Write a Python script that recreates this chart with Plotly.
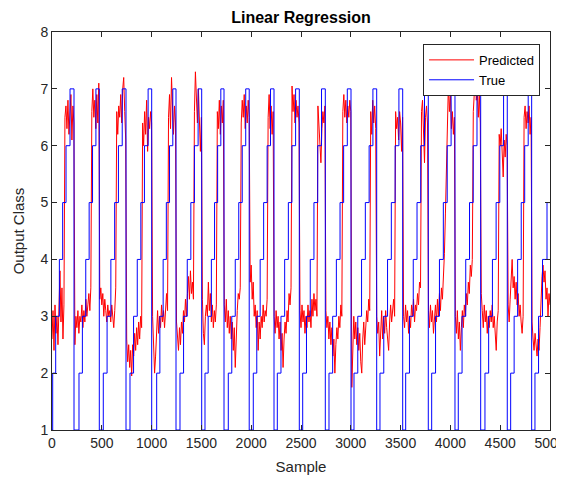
import plotly.graph_objects as go

# ---- True class (step function): sample where each level starts, and the level ----
true_change = [
    0, 7, 37, 74, 107, 141, 181,
    221, 271, 305, 339, 373, 407, 441,
    475, 515, 553, 591, 629, 667, 705,
    743, 783, 819, 856, 892, 928, 965,
    1001, 1051, 1083, 1116, 1148, 1180, 1213,
    1245, 1285, 1321, 1358, 1394, 1430, 1467,
    1503, 1536, 1568, 1600, 1632, 1663, 1695,
    1727, 1770, 1805, 1840, 1875, 1910, 1945,
    1980, 2021, 2056, 2090, 2125, 2160, 2194,
    2229, 2262, 2299, 2336, 2373, 2409, 2446,
    2483, 2517, 2555, 2593, 2630, 2668, 2706,
    2744, 2781, 2818, 2855, 2892, 2928, 2965,
    3002, 3032, 3070, 3108, 3146, 3184, 3222,
    3260, 3293, 3331, 3369, 3407, 3445, 3483,
    3521, 3551, 3589, 3627, 3665, 3702, 3740,
    3778, 3812, 3851, 3890, 3929, 3968, 4007,
    4046, 4079, 4117, 4154, 4192, 4229, 4267,
    4304, 4347, 4384, 4422, 4459, 4496, 4534,
    4571, 4605, 4640, 4675, 4711, 4746, 4781,
    4816, 4849, 4885, 4925, 4970, 5000,
]
true_level = [
    1, 2, 3, 4, 5, 6, 7,
    1, 2, 3, 4, 5, 6, 7,
    1, 2, 3, 4, 5, 6, 7,
    1, 2, 3, 4, 5, 6, 7,
    1, 2, 3, 4, 5, 6, 7,
    1, 2, 3, 4, 5, 6, 7,
    1, 2, 3, 4, 5, 6, 7,
    1, 2, 3, 4, 5, 6, 7,
    1, 2, 3, 4, 5, 6, 7,
    1, 2, 3, 4, 5, 6, 7,
    1, 2, 3, 4, 5, 6, 7,
    1, 2, 3, 4, 5, 6, 7,
    1, 2, 3, 4, 5, 6, 7,
    1, 2, 3, 4, 5, 6, 7,
    1, 2, 3, 4, 5, 6, 7,
    1, 2, 3, 4, 5, 6, 7,
    1, 2, 3, 4, 5, 6, 7,
    1, 2, 3, 4, 5, 6, 7,
    1, 2, 3, 4, 5, 6, 7,
    1, 2, 3, 4, 5, 5,
]

# ---- Predicted output: (first sample, values every 10 samples) ----
pred_step = 10
pred_segments = [
    (0,    [2.6, 3.1, 2.4, 3.2, 2.7, 3.0, 2.5, 3.3, 3.8, 2.9, 3.5, 2.6, 3.2]),
    (130,  [6.5, 6.7, 6.3, 6.8, 6.2, 6.6, 6.9, 6.1, 6.7, 6.4]),
    (230,  [2.5, 3.0, 2.8, 3.1, 2.7, 3.0, 2.9, 3.2, 2.8, 3.1, 2.9, 3.3, 3.0, 3.2, 3.4, 3.1, 3.5]),
    (400,  [6.6, 7.0, 6.5, 6.8, 6.3, 6.9, 6.4, 7.1]),
    (480,  [3.3, 3.5, 3.2, 3.4, 3.0, 3.3, 3.1, 2.9, 3.2, 3.0, 3.1, 2.9, 3.2, 3.0, 2.8, 3.1, 3.5]),
    (650,  [6.6, 6.2, 6.7, 6.5, 6.9, 6.4, 7.0, 7.2, 6.6, 6.1]),
    (750,  [2.6, 2.2, 2.5, 2.1, 2.4, 1.95, 2.5, 2.3, 2.7, 2.4, 2.8, 2.5, 2.9, 2.6, 3.0, 2.8]),
    (910,  [6.4, 6.0, 6.6, 6.2, 6.8, 5.9, 6.5, 6.3, 6.6, 6.4]),
    (1010, [3.0, 2.5, 2.0, 2.3, 2.8, 3.1, 2.7, 3.0, 2.8, 3.2, 2.9, 3.1, 2.8, 3.2, 3.4, 3.1]),
    (1170, [6.5, 6.9, 6.3, 7.2, 6.6, 6.2, 6.7, 6.4]),
    (1250, [2.9, 2.6, 2.4, 2.8, 2.5, 2.9, 2.7, 3.1, 2.9, 3.3, 3.0, 3.4, 3.7, 3.3, 3.8, 3.4, 3.6, 3.3]),
    (1430, [6.6, 7.3, 6.8, 6.4, 7.0, 6.2, 5.9, 6.5]),
    (1510, [3.3, 2.7, 2.5, 3.0, 3.2, 3.0, 3.6, 3.1, 3.4, 2.9, 3.2, 2.8, 3.1, 2.9, 3.2]),
    (1660, [6.6, 6.3, 6.8, 6.2, 6.7, 6.4, 6.8]),
    (1730, [3.2, 2.9, 3.3, 2.8, 3.1, 2.7, 3.0, 2.6, 2.9, 2.4, 2.8, 2.1, 2.8, 3.1, 3.4, 3.3, 3.5]),
    (1900, [6.4, 6.8, 6.5, 6.9, 6.3, 6.7, 6.4, 6.8, 6.5]),
    (1990, [3.6, 3.9, 3.3, 3.6, 3.0, 3.2, 2.8, 3.1, 2.4, 2.9, 2.6, 3.0, 2.8, 3.2, 2.9, 3.1, 3.0, 3.3]),
    (2170, [6.5, 6.9, 6.3, 6.7, 6.2, 6.6]),
    (2230, [3.0, 2.7, 3.1, 2.8, 3.0, 2.6, 2.9, 2.4, 2.7, 2.1, 2.6, 2.9, 2.7, 3.1, 2.9, 3.4, 3.2, 3.5]),
    (2410, [7.05, 6.6, 6.9, 6.4, 6.8, 6.5, 6.7, 6.4]),
    (2490, [3.1, 2.8, 3.2, 2.9, 3.1, 2.7, 3.0, 2.8, 3.2, 2.9, 3.1, 2.8, 3.3, 3.0, 3.4, 3.1, 3.3, 3.0]),
    (2670, [6.7, 6.4, 6.1, 5.7, 6.3, 6.6, 6.4, 6.7]),
    (2750, [3.1, 2.8, 3.0, 2.6, 2.9, 2.5, 2.8, 2.3, 2.6, 2.0, 2.5, 2.8, 2.6, 3.0, 2.8, 3.2, 3.0]),
    (2920, [6.6, 6.9, 6.5, 6.8, 6.4, 6.7, 6.5, 6.8, 6.6]),
    (3010, [1.75, 2.7, 3.0, 2.6, 2.9, 2.5, 2.8, 2.4, 2.7, 2.2, 2.0, 2.6, 2.9, 2.5, 2.8, 3.1, 2.9, 3.3, 3.1]),
    (3200, [6.6, 6.2, 6.8, 6.4, 6.7, 6.3]),
    (3260, [3.0, 2.7, 2.9, 2.3, 2.8, 3.1, 2.6, 3.0, 2.7, 3.1, 2.8, 2.5, 2.4, 2.9, 3.2, 2.9, 3.1, 3.3, 3.0]),
    (3450, [6.6, 6.3, 6.5, 6.1, 6.6, 6.4, 5.9, 6.5]),
    (3530, [3.0, 2.8, 3.2, 2.9, 3.1, 2.7, 3.0, 2.8, 3.2, 3.0, 3.3, 2.9, 3.2, 3.1, 3.4, 3.2, 3.6, 3.5]),
    (3710, [6.6, 6.8, 6.2, 5.7, 6.5, 6.7, 6.4]),
    (3780, [3.1, 2.8, 3.2, 2.9, 3.1, 2.7, 3.0, 3.2, 2.9, 3.3, 3.0, 3.4, 3.1, 3.5, 3.3, 3.6, 4.1, 4.8, 5.6]),
    (3970, [6.4, 7.1, 6.6, 6.9, 6.3, 6.6, 6.2, 6.5]),
    (4050, [3.0, 2.7, 3.1, 2.6, 2.9, 2.4, 2.8, 3.1, 2.8, 3.2, 3.0, 3.4, 3.2, 3.6, 3.4, 3.9, 3.7, 4.0]),
    (4230, [6.6, 6.9, 7.25, 6.8, 7.0, 6.5, 6.9, 6.4]),
    (4310, [3.4, 3.1, 2.8, 3.2, 2.9, 3.1, 2.7, 3.0, 2.8, 3.1, 2.9, 3.2, 2.8, 3.0, 2.7, 2.4, 2.9, 3.1]),
    (4490, [6.2, 6.0, 6.3, 5.7, 5.45, 6.1, 5.8, 6.2, 6.0]),
    (4580, [3.2, 2.9, 3.3, 3.6, 4.0, 3.5, 3.7, 3.3, 3.6, 3.2, 3.4, 3.0, 3.2, 2.9, 2.7, 3.0]),
    (4740, [6.5, 6.7, 6.3, 6.6, 6.4, 6.7, 6.2, 6.5]),
    (4820, [2.9, 2.6, 2.4, 2.7, 2.5, 2.3, 2.6, 2.4, 2.8, 3.3, 3.7, 3.9, 3.6, 3.8, 3.3, 3.5, 3.0, 3.4, 3.2]),
]

x_ticks = [0, 500, 1000, 1500, 2000, 2500, 3000, 3500, 4000, 4500, 5000]
y_ticks = [1, 2, 3, 4, 5, 6, 7, 8]

pred_x, pred_y = [], []
for start, vals in pred_segments:
    for i, v in enumerate(vals):
        pred_x.append(start + pred_step * i)
        pred_y.append(v)

AX = "#262626"
FONT = "Arial, Liberation Sans, Helvetica, sans-serif"

fig = go.Figure()
fig.add_trace(go.Scatter(x=pred_x, y=pred_y, mode="lines", name="Predicted",
                         line=dict(color="#ff0000", width=1)))
fig.add_trace(go.Scatter(x=true_change, y=true_level, mode="lines", name="True",
                         line=dict(color="#0000ff", width=1, shape="hv")))

axis_common = dict(showline=True, linecolor=AX, linewidth=1, mirror="ticks",
                   ticks="inside", ticklen=5, tickcolor=AX, tickwidth=1,
                   showgrid=False, zeroline=False, ticklabeloverflow="allow",
                   tickfont=dict(family=FONT, size=14, color=AX))

fig.update_xaxes(range=[0, 5000], tickvals=x_ticks, ticktext=[str(v) for v in x_ticks],
                 title=dict(text="Sample", font=dict(family=FONT, size=15, color=AX), standoff=11),
                 **axis_common)
fig.update_yaxes(range=[1, 8], tickvals=y_ticks, ticktext=[str(v) for v in y_ticks],
                 title=dict(text="Output Class", font=dict(family=FONT, size=15, color=AX), standoff=12),
                 **axis_common)

# the page body adds an 8px offset, so the margins are shifted to compensate
fig.update_layout(
    width=564, height=478,
    margin=dict(l=44, r=22, t=24, b=56, autoexpand=False),
    paper_bgcolor="white", plot_bgcolor="white",
    font=dict(family=FONT, color=AX),
    title=dict(text="<b>Linear Regression</b>", x=0.5, xref="paper", xanchor="center",
               y=1 - 9 / 478, yref="container", yanchor="middle",
               font=dict(family=FONT, size=16, color="#000000")),
    legend=dict(x=0.98, y=0.97, xanchor="right", yanchor="top",
                bgcolor="white", bordercolor="#262626", borderwidth=1,
                font=dict(family=FONT, size=13, color="#000000"),
                itemwidth=45, tracegroupgap=0),
    showlegend=True,
)

fig.write_html("out.html")
